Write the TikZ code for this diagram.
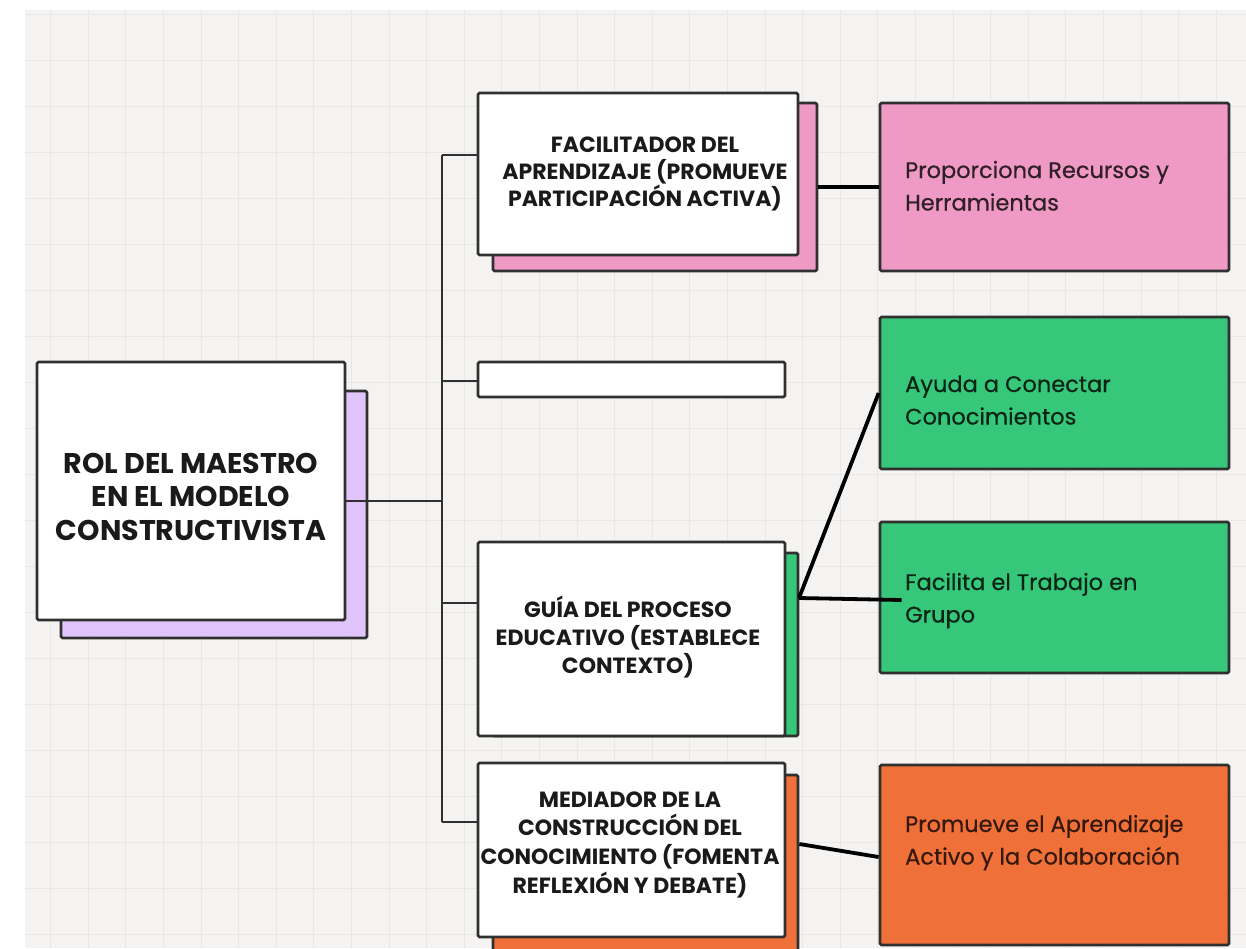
\documentclass[tikz,border=0pt]{standalone}
\usepackage{fontspec}
\newfontfamily\hdfont{Poppins}
\newfontfamily\bodyfont{Poppins}[FakeBold=0.5]

\definecolor{paper}{HTML}{F4F3F2}
\definecolor{gridc}{HTML}{E8E7E6}
\definecolor{edge}{HTML}{303030}
\definecolor{ink}{HTML}{1A1A1A}
\definecolor{lav}{HTML}{DFC5FA}
\definecolor{pinkc}{HTML}{EE9AC4}
\definecolor{greenc}{HTML}{36C77B}
\definecolor{orangec}{HTML}{F0703A}

\tikzset{
  box/.style={draw=edge, line width=2.7pt, rounded corners=1.5pt, fill=white, inner sep=0pt},
  shadowbox/.style={draw=edge, line width=2.7pt, rounded corners=1.5pt, inner sep=0pt},
  leafbox/.style={draw=edge, line width=2.7pt, rounded corners=1.5pt, inner sep=0pt},
  bus/.style={draw=edge, line width=2.4pt},
  link/.style={draw=black, line width=3.8pt},
  gridline/.style={draw=gridc, line width=0.9pt},
  hd/.style={anchor=base, inner sep=0pt, text=ink},
  leaftext/.style={anchor=base west, inner sep=0pt, font=\bodyfont\fontsize{22.5}{32.5}\selectfont},
}

\begin{document}
\begin{tikzpicture}[x=1pt, y=-1pt]
\useasboundingbox (0,0) rectangle (1246,948);
\fill[white] (0,0) rectangle (1246,948);
% squared paper
\fill[paper] (25,10) rectangle (1246,948);
\begin{scope}
  \clip (25,10) rectangle (1246,948);
  \foreach \gx in {50.6,88.2,...,1250} \draw[gridline] (\gx,10) -- (\gx,948);
  \foreach \gy in {14,60,...,950} \draw[gridline] (25,\gy) -- (1246,\gy);
\end{scope}

% coloured backing sheets
\node[shadowbox, fill=lav, minimum width=306pt, minimum height=247pt] (mainS) at (214,514.5) {};
\node[shadowbox, fill=pinkc, minimum width=324pt, minimum height=168pt] (facS) at (655,187) {};
\node[shadowbox, fill=greenc, minimum width=305pt, minimum height=183pt] (guiaS) at (645.5,644.5) {};
\node[shadowbox, fill=orangec, minimum width=305pt, minimum height=187pt] (medS) at (645.5,868.5) {};

% main cards
\node[box, minimum width=308pt, minimum height=258pt] (main) at (191,491) {};
\node[box, minimum width=320pt, minimum height=162pt] (fac) at (638,174) {};
\node[box, minimum width=307pt, minimum height=35pt] (blank) at (631.5,379.5) {};
\node[box, minimum width=307pt, minimum height=194pt] (guia) at (631.5,639) {};
\node[box, minimum width=307pt, minimum height=174pt] (med) at (631.5,850) {};

% detail cards
\node[leafbox, fill=pinkc, minimum width=349pt, minimum height=168pt] (pink) at (1054.5,187) {};
\node[leafbox, fill=greenc, minimum width=349pt, minimum height=152pt] (gA) at (1054.5,393) {};
\node[leafbox, fill=greenc, minimum width=349pt, minimum height=151pt] (gB) at (1054.5,597.5) {};
\node[leafbox, fill=orangec, minimum width=349pt, minimum height=180pt] (org) at (1054.5,855) {};

% tree connectors
\coordinate (jn) at (442,501);
\coordinate (bT) at (442,155);
\coordinate (b2) at (442,381);
\coordinate (b3) at (442,603);
\coordinate (bB) at (442,822);
\draw[bus] (main.east |- jn) -- (jn);
\draw[bus] (bT) -- (bB);
\draw[bus] (bT) -- (bT -| fac.west);
\draw[bus] (b2) -- (b2 -| blank.west);
\draw[bus] (b3) -- (b3 -| guia.west);
\draw[bus] (bB) -- (bB -| med.west);

% links to the detail cards
\coordinate (gj) at (799,598);
\coordinate (gBin) at ([xshift=23pt, yshift=-2.5pt]gB.west);
\draw[link] (facS.east |- pink.west) -- (pink.west);
\draw[link] (gj) -- (gA.west);
\draw[link] (gj) -- (gBin);
\draw[link] ([yshift=24.5pt]medS.east) -- ([yshift=-2pt]org.west);

% card texts
\node[hd, font=\hdfont\bfseries\fontsize{28.5}{33.5}\selectfont] (mainT) at (191,473)
  {\parbox[t]{340pt}{\centering ROL DEL MAESTRO\\EN EL MODELO\\CONSTRUCTIVISTA}};
\node[hd, font=\hdfont\bfseries\fontsize{22}{27}\selectfont] (facT) at (645,152)
  {\parbox[t]{340pt}{\centering FACILITADOR DEL\\APRENDIZAJE (PROMUEVE\\PARTICIPACIÓN ACTIVA)}};
\node[hd, font=\hdfont\bfseries\fontsize{22}{28}\selectfont] (guiaT) at (628,617)
  {\parbox[t]{340pt}{\centering GUÍA DEL PROCESO\\EDUCATIVO (ESTABLECE\\CONTEXTO)}};
\node[hd, font=\hdfont\bfseries\fontsize{22}{28.7}\selectfont] (medT) at (630,807)
  {\parbox[t]{340pt}{\centering MEDIADOR DE LA\\CONSTRUCCIÓN DEL\\CONOCIMIENTO (FOMENTA\\REFLEXIÓN Y DEBATE)}};

\node[leaftext, text=black!80!pinkc] (pinkT) at (905,178)
  {\parbox[t]{320pt}{\raggedright Proporciona Recursos y\\Herramientas}};
\node[leaftext, text=black!82!greenc] (gAT) at (905,392)
  {\parbox[t]{320pt}{\raggedright Ayuda a Conectar\\Conocimientos}};
\node[leaftext, text=black!82!greenc] (gBT) at (905,590)
  {\parbox[t]{320pt}{\raggedright Facilita el Trabajo en\\Grupo}};
\node[leaftext, text=black!78!orangec] (orgT) at (905,832)
  {\parbox[t]{320pt}{\raggedright Promueve el Aprendizaje\\Activo y la Colaboración}};
\end{tikzpicture}
\end{document}
